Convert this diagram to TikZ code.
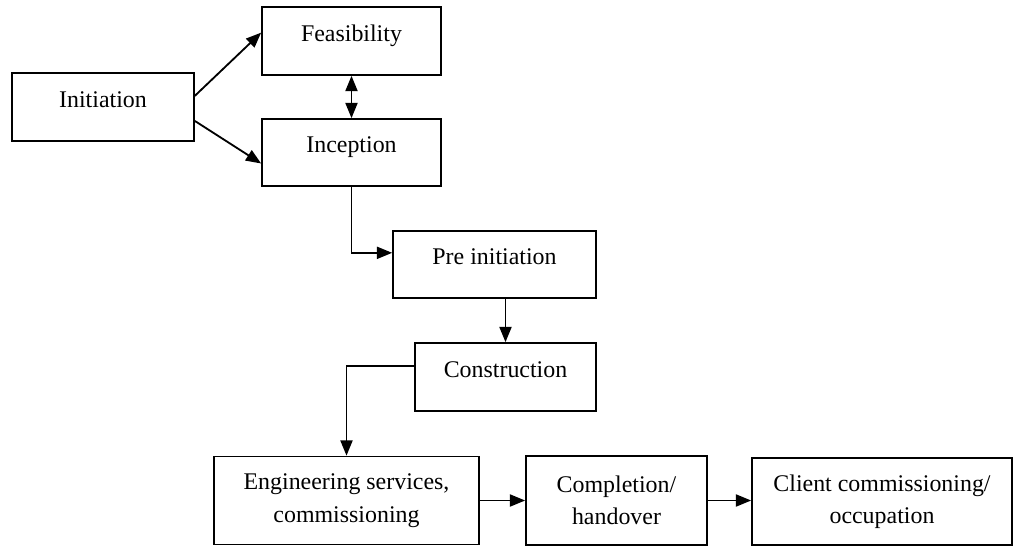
\documentclass[tikz,border=0pt]{standalone}
\usepackage{fontspec}
\setmainfont{Liberation Serif}
\usetikzlibrary{arrows.meta,calc}
\begin{document}
\begin{tikzpicture}[x=0.025cm, y=-0.025cm,
        every node/.style={draw, line width=1.2pt, align=center, inner sep=0pt,
            font=\fontsize{17}{23}\selectfont},
        single/.style={text height=0.6em, text depth=0.6em},
        arr/.style={line width=1.3pt, -{Triangle[length=0.38cm,width=0.3cm]}}]
            \def \px {0.025cm}
            \useasboundingbox (0,0) rectangle (1014,546);
            \node[single, minimum width=182*\px, minimum height=68*\px] (init) at (103,107) {Initiation};
            \node[single, minimum width=179*\px, minimum height=68*\px] (feas) at (351.5,41) {Feasibility};
            \node[single, minimum width=179*\px, minimum height=67*\px] (incep) at (351.5,152.5) {Inception};
            \node[single, minimum width=203*\px, minimum height=67*\px] (pre) at (494.5,264.5) {Pre initiation};
            \node[single, minimum width=181*\px, minimum height=68*\px] (cons) at (505.5,377) {Construction};
            \node[minimum width=265*\px, minimum height=88*\px] (eng) at (346.5,500.5) {Engineering services,\\commissioning};
            \node[minimum width=181*\px, minimum height=89*\px] (comp) at (616.5,500.5) {Completion/\\handover};
            \node[minimum width=260*\px, minimum height=87*\px] (client) at (882,501.5) {Client commissioning/\\occupation};
            \draw[arr] ($(init.north east)!0.34!(init.south east)$) -- ($(feas.north west)!0.38!(feas.south west)$);
            \draw[arr] ($(init.north east)!0.7!(init.south east)$) -- ($(incep.north west)!0.66!(incep.south west)$);
            \draw[arr, {Triangle[length=0.38cm,width=0.3cm]}-{Triangle[length=0.38cm,width=0.3cm]}] (feas) -- (incep);
            \draw[arr] (incep.south) |- ($(pre.north west)!0.33!(pre.south west)$);
            \draw[arr] (pre.south -| cons.north) -- (cons.north);
            \draw[arr] ($(cons.north west)!0.34!(cons.south west)$) -| (eng.north);
            \draw[arr] (eng) -- (comp);
            \draw[arr] (comp) -- (comp -| client.west);
        \end{tikzpicture}
\end{document}
